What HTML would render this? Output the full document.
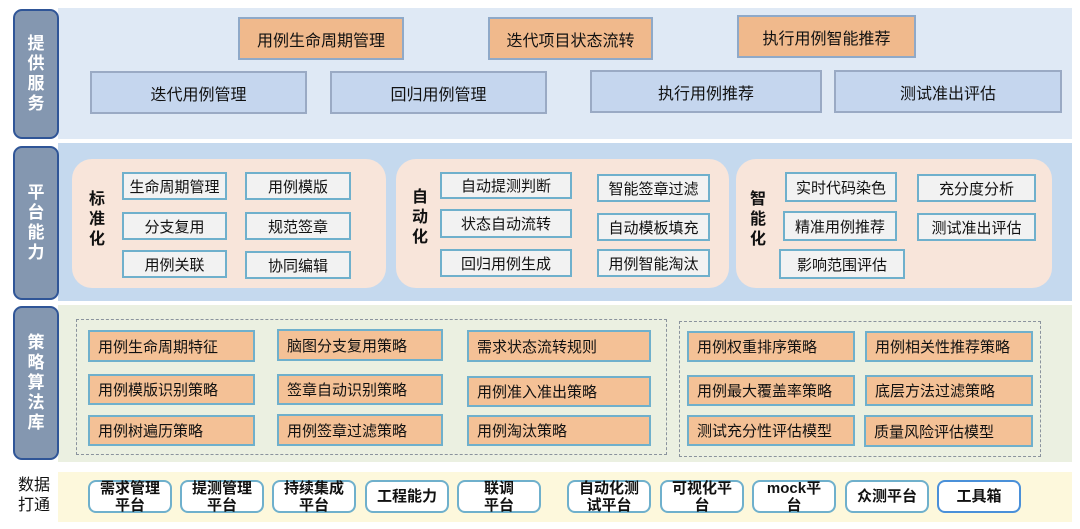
<!DOCTYPE html>
<html><head><meta charset="utf-8"><style>
*{margin:0;padding:0;box-sizing:border-box}
body{width:1080px;height:529px;background:#fff;position:relative;overflow:hidden;font-family:"Liberation Sans","Noto Sans CJK SC",sans-serif;color:#111}
div{position:absolute}
.side{left:13px;width:46px;background:#8497b0;border:2px solid #2f5597;border-radius:9px;color:#fff;font-size:17px;font-weight:bold;display:flex;align-items:center;justify-content:center;text-align:center;line-height:20px}
.c{display:flex;align-items:center;justify-content:center;text-align:center}
.or{background:#f0b98c;border:2px solid #8fa9c8}
.bl{background:#c5d6ee;border:2px solid #9aaac4;font-size:16px}
.pn{background:#f8e5da;border-radius:20px}
.wb{background:#f2f2f2;border:2px solid #6fb0cc;font-size:15px}
.lab{font-size:16px;font-weight:bold;line-height:20px;width:18px;text-align:center}
.so{background:#f4c196;border:2px solid #6fb0cc;font-size:15px;padding-left:8px;display:flex;align-items:center}
.dash{border:1.5px dashed #8a939d}
.db{top:480px;width:84px;height:33px;background:#fff;border:2px solid #6fb0cc;border-radius:8px;font-size:15px;font-weight:bold;line-height:17px}
</style></head><body>
<div style="left:58px;top:8px;width:1014px;height:131px;background:#dfe9f5"></div>
<div style="left:58px;top:143px;width:1014px;height:158px;background:#c5d9ee"></div>
<div style="left:58px;top:305px;width:1014px;height:157px;background:#ebf0e1"></div>
<div style="left:58px;top:472px;width:1014px;height:50px;background:#fdf8dc"></div>

<div class="side" style="top:9px;height:130px">提<br>供<br>服<br>务</div>
<div class="side" style="top:146px;height:154px">平<br>台<br>能<br>力</div>
<div class="side" style="top:306px;height:154px">策<br>略<br>算<br>法<br>库</div>
<div style="left:14px;top:476px;width:40px;font-size:16px;line-height:20px;text-align:center">数据<br>打通</div>

<div class="c or" style="left:238px;top:17px;width:166px;height:43px;font-size:16px">用例生命周期管理</div>
<div class="c or" style="left:488px;top:17px;width:165px;height:43px;font-size:16px">迭代项目状态流转</div>
<div class="c or" style="left:737px;top:15px;width:179px;height:43px;font-size:16px">执行用例智能推荐</div>
<div class="c bl" style="left:90px;top:71px;width:217px;height:43px">迭代用例管理</div>
<div class="c bl" style="left:330px;top:71px;width:217px;height:43px">回归用例管理</div>
<div class="c bl" style="left:590px;top:70px;width:232px;height:43px">执行用例推荐</div>
<div class="c bl" style="left:834px;top:70px;width:228px;height:43px">测试准出评估</div>

<div class="pn" style="left:72px;top:159px;width:314px;height:129px"></div>
<div class="pn" style="left:396px;top:159px;width:333px;height:129px"></div>
<div class="pn" style="left:736px;top:159px;width:316px;height:129px"></div>
<div class="lab" style="left:88px;top:190px">标准化</div>
<div class="lab" style="left:411px;top:188px">自动化</div>
<div class="lab" style="left:749px;top:190px">智能化</div>

<div class="c wb" style="left:122px;top:172px;width:105px;height:28px">生命周期管理</div>
<div class="c wb" style="left:245px;top:172px;width:106px;height:28px">用例模版</div>
<div class="c wb" style="left:122px;top:212px;width:105px;height:28px">分支复用</div>
<div class="c wb" style="left:245px;top:212px;width:106px;height:28px">规范签章</div>
<div class="c wb" style="left:122px;top:250px;width:105px;height:28px">用例关联</div>
<div class="c wb" style="left:245px;top:251px;width:106px;height:28px">协同编辑</div>

<div class="c wb" style="left:440px;top:172px;width:132px;height:27px">自动提测判断</div>
<div class="c wb" style="left:440px;top:209px;width:132px;height:29px">状态自动流转</div>
<div class="c wb" style="left:440px;top:249px;width:132px;height:28px">回归用例生成</div>
<div class="c wb" style="left:597px;top:174px;width:113px;height:28px">智能签章过滤</div>
<div class="c wb" style="left:597px;top:213px;width:113px;height:28px">自动模板填充</div>
<div class="c wb" style="left:597px;top:249px;width:113px;height:28px">用例智能淘汰</div>

<div class="c wb" style="left:785px;top:172px;width:112px;height:30px">实时代码染色</div>
<div class="c wb" style="left:783px;top:211px;width:114px;height:30px">精准用例推荐</div>
<div class="c wb" style="left:779px;top:249px;width:126px;height:30px">影响范围评估</div>
<div class="c wb" style="left:917px;top:174px;width:119px;height:28px">充分度分析</div>
<div class="c wb" style="left:917px;top:213px;width:119px;height:28px">测试准出评估</div>

<div class="dash" style="left:76px;top:319px;width:591px;height:136px"></div>
<div class="dash" style="left:679px;top:321px;width:362px;height:136px"></div>
<div class="so" style="left:88px;top:330px;width:167px;height:32px">用例生命周期特征</div>
<div class="so" style="left:277px;top:329px;width:166px;height:32px">脑图分支复用策略</div>
<div class="so" style="left:467px;top:330px;width:184px;height:32px">需求状态流转规则</div>
<div class="so" style="left:88px;top:374px;width:167px;height:31px">用例模版识别策略</div>
<div class="so" style="left:277px;top:374px;width:166px;height:31px">签章自动识别策略</div>
<div class="so" style="left:467px;top:376px;width:184px;height:31px">用例准入准出策略</div>
<div class="so" style="left:88px;top:415px;width:167px;height:31px">用例树遍历策略</div>
<div class="so" style="left:277px;top:414px;width:166px;height:32px">用例签章过滤策略</div>
<div class="so" style="left:467px;top:415px;width:184px;height:31px">用例淘汰策略</div>
<div class="so" style="left:687px;top:331px;width:168px;height:31px">用例权重排序策略</div>
<div class="so" style="left:865px;top:331px;width:168px;height:31px">用例相关性推荐策略</div>
<div class="so" style="left:687px;top:375px;width:168px;height:31px">用例最大覆盖率策略</div>
<div class="so" style="left:865px;top:375px;width:168px;height:31px">底层方法过滤策略</div>
<div class="so" style="left:687px;top:415px;width:168px;height:31px">测试充分性评估模型</div>
<div class="so" style="left:864px;top:415px;width:169px;height:32px">质量风险评估模型</div>

<div class="c db" style="left:88px">需求管理<br>平台</div>
<div class="c db" style="left:180px">提测管理<br>平台</div>
<div class="c db" style="left:272px">持续集成<br>平台</div>
<div class="c db" style="left:365px">工程能力</div>
<div class="c db" style="left:457px">联调<br>平台</div>
<div class="c db" style="left:567px">自动化测<br>试平台</div>
<div class="c db" style="left:660px">可视化平<br>台</div>
<div class="c db" style="left:752px">mock平<br>台</div>
<div class="c db" style="left:845px">众测平台</div>
<div class="c db" style="left:937px;border-color:#4a90d9">工具箱</div>
</body></html>
